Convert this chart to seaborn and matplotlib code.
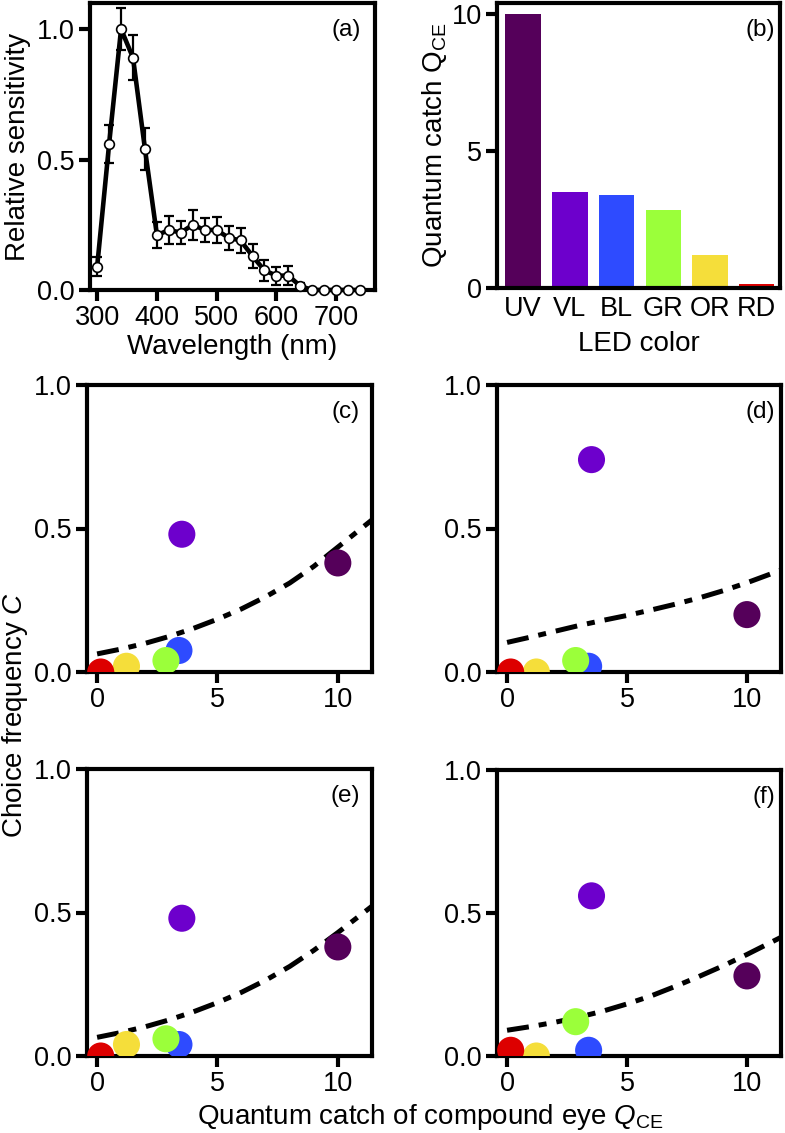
import numpy as np
import pandas as pd
import matplotlib
matplotlib.use("Agg")
import matplotlib.pyplot as plt
import seaborn as sns

# ---- data ----
wavelength = [300, 320, 340, 360, 380, 400, 420, 440, 460, 480, 500, 520,
              540, 560, 580, 600, 620, 640, 660, 680, 700, 720, 740]
sensitivity = [0.09, 0.56, 1.0, 0.89, 0.54, 0.21, 0.23, 0.22, 0.25, 0.23, 0.23, 0.20,
               0.19, 0.13, 0.075, 0.055, 0.055, 0.015, 0.0, 0.0, 0.0, 0.0, 0.0]
sens_err = [0.035, 0.072, 0.08, 0.086, 0.079, 0.049, 0.052, 0.045, 0.057, 0.047, 0.05, 0.047,
            0.047, 0.045, 0.04, 0.035, 0.036, 0.01, 0.0, 0.0, 0.0, 0.0, 0.0]

leds = ["UV", "VL", "BL", "GR", "OR", "RD"]
led_colors = ["#55005a", "#6d00cc", "#2e4bff", "#9bff3a", "#f5de3a", "#dd0000"]
q_ce = [10.0, 3.52, 3.40, 2.86, 1.22, 0.15]

choice_c = [0.38, 0.48, 0.075, 0.04, 0.02, 0.0]
choice_d = [0.20, 0.74, 0.02, 0.04, 0.0, 0.0]
choice_e = [0.38, 0.48, 0.04, 0.06, 0.04, 0.0]
choice_f = [0.28, 0.56, 0.02, 0.12, 0.0, 0.02]

# fitted curves
fit_q = [0, 1, 2, 3, 4, 5, 6, 7, 8, 9, 10, 11.42]
fit_c = [0.063, 0.080, 0.100, 0.124, 0.152, 0.184, 0.220, 0.262, 0.310, 0.368, 0.435, 0.530]
fit_d = [0.103, 0.122, 0.142, 0.162, 0.180, 0.197, 0.216, 0.236, 0.258, 0.283, 0.311, 0.355]
fit_e = [0.065, 0.082, 0.102, 0.126, 0.154, 0.186, 0.222, 0.264, 0.312, 0.368, 0.430, 0.522]
fit_f = [0.090, 0.103, 0.118, 0.136, 0.157, 0.182, 0.210, 0.243, 0.278, 0.315, 0.355, 0.415]

# ---- theme ----
sns.set_theme(style="ticks")
plt.rcParams['font.family'] = ['Liberation Sans', 'DejaVu Sans']
plt.rcParams['mathtext.fontset'] = 'custom'
plt.rcParams['mathtext.rm'] = 'Liberation Sans'
plt.rcParams['mathtext.it'] = 'Liberation Sans:italic'
for k in ['text.color', 'axes.labelcolor', 'xtick.color', 'ytick.color', 'axes.edgecolor']:
    plt.rcParams[k] = 'black'
FS = 19.5

W, H = 785, 1133
fig = plt.figure(figsize=(W / 100, H / 100), dpi=100)


def box(l, t, r, b):
    return fig.add_axes([l / W, 1 - b / H, (r - l) / W, (b - t) / H])


def style(ax):
    for s in ax.spines.values():
        s.set_linewidth(3.0)
        s.set_color("black")
        s.set_visible(True)
    ax.tick_params(direction="out", length=8, width=3, labelsize=FS, pad=3, color="black")


def panel_label(ax, txt, x):
    ax.text(x, 0.905, txt, transform=ax.transAxes, ha="right", va="center", fontsize=17.5)


# --- (a) spectral sensitivity ---
ax = box(90, 3, 375, 290)
ax.errorbar(wavelength, sensitivity, yerr=sens_err, fmt="none", ecolor="black",
            elinewidth=1.6, capsize=3.5, capthick=1.6, zorder=2)
sns.lineplot(x=wavelength, y=sensitivity, color="black", lw=3.3, marker="o", markersize=7,
             markerfacecolor="white", markeredgecolor="black", markeredgewidth=1.2,
             ax=ax, clip_on=False, zorder=3)
ax.set_xlim(288, 765)
ax.set_ylim(0, 1.1)
ax.set_xticks([300, 400, 500, 600, 700])
ax.set_yticks([0, 0.5, 1.0])
ax.set_yticklabels(["0.0", "0.5", "1.0"])
ax.set_xlabel("Wavelength (nm)", fontsize=FS + 0.5, labelpad=2)
ax.set_ylabel("Relative sensitivity", fontsize=FS + 0.5, labelpad=4)
style(ax)
panel_label(ax, "(a)", 0.95)

# --- (b) quantum catch bars ---
ax = box(497, 3, 780, 288)
df_b = pd.DataFrame({"LED": leds, "Q": q_ce})
sns.barplot(data=df_b, x="LED", y="Q", hue="LED", palette=led_colors, legend=False,
            width=0.76, linewidth=0, saturation=1, ax=ax)
ax.set_xlim(-0.56, 5.5)
ax.set_ylim(0, 10.4)
ax.set_yticks([0, 5, 10])
ax.set_xlabel("LED color", fontsize=FS + 0.5, labelpad=6)
ax.set_ylabel(r"Quantum catch $\mathrm{Q}_\mathrm{CE}$", fontsize=FS + 0.5, labelpad=2)
style(ax)
ax.tick_params(axis="x", length=0, pad=6)
panel_label(ax, "(b)", 0.982)

# --- (c)-(f) choice frequency ---
boxes = {"(c)": (87, 385, 372, 672), "(d)": (497, 385, 781, 672),
         "(e)": (87, 769, 372, 1056), "(f)": (497, 770, 781, 1056)}
choices = {"(c)": choice_c, "(d)": choice_d, "(e)": choice_e, "(f)": choice_f}
fits = {"(c)": fit_c, "(d)": fit_d, "(e)": fit_e, "(f)": fit_f}
lab_x = {"(c)": 0.958, "(d)": 0.979, "(e)": 0.958, "(f)": 0.979}

for key, (l, t, r, b) in boxes.items():
    ax = box(l, t, r, b)
    df = pd.DataFrame({"LED": leds, "Q": q_ce, "C": choices[key]})
    sns.lineplot(x=fit_q, y=fits[key], color="black", lw=3.6, ax=ax,
                 dashes=False, zorder=2).lines[0].set_dashes((4.4, 2.0, 1.6, 2.0))
    sns.scatterplot(data=df, x="Q", y="C", hue="LED", palette=led_colors, s=380,
                    linewidth=0, alpha=1, legend=False, ax=ax, zorder=3)
    ax.set_xlim(-0.42, 11.42)
    ax.set_ylim(0, 1.0)
    ax.set_xticks([0, 5, 10])
    ax.set_yticks([0, 0.5, 1.0])
    ax.set_yticklabels(["0.0", "0.5", "1.0"])
    ax.set_xlabel("")
    ax.set_ylabel("")
    style(ax)
    panel_label(ax, key, lab_x[key])

fig.text(15 / W, 1 - 715 / H, "Choice frequency $C$", rotation=90, ha="center", va="center",
         fontsize=FS + 0.5)
fig.text(430 / W, 1 - 1117 / H, r"Quantum catch of compound eye $Q_\mathrm{CE}$",
         ha="center", va="center", fontsize=FS + 0.5)

fig.savefig("out.png", dpi=100)
